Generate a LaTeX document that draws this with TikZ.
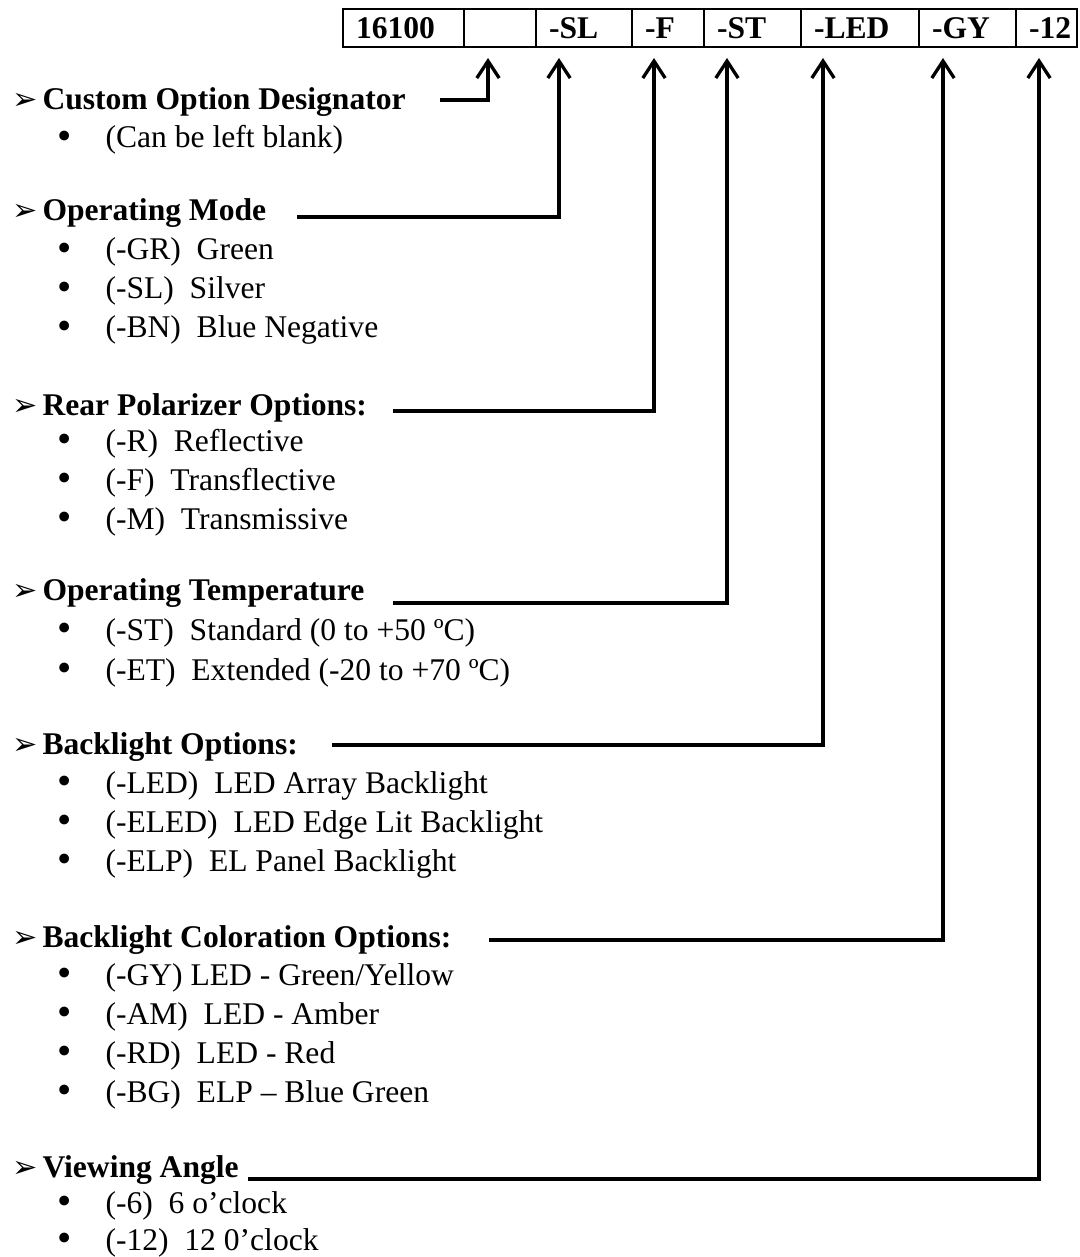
\documentclass[tikz,border=0pt]{standalone}
\usepackage{fontspec}
\setmainfont{Liberation Serif}
\newfontfamily\dingfont{DejaVu Sans}
\usetikzlibrary{positioning,arrows.meta}
\newlength\upx
\setlength\upx{0.38pt}
\newcommand\cellbox[2]{\makebox[#1\upx][l]{\hspace{13\upx}#2}}
\newcommand\mk{\makebox[30\upx][l]{\mdseries\dingfont\fontsize{11.5}{12}\selectfont ➢}}
\newcommand\bul{\makebox[48\upx][l]{\smash{\raisebox{-.5pt}{\fontsize{15.5}{12}\selectfont •}}}}
\tikzset{pn/.style={x=\upx,y=-\upx,font=\fontsize{12}{14}\selectfont},
  cell/.style={draw,line width=.8pt,inner xsep=0pt,inner ysep=0pt,outer sep=0pt,minimum height=38*\upx,font=\fontsize{12}{14}\selectfont\bfseries},
  hdr/.style={anchor=base west,inner sep=0pt,font=\fontsize{12}{14}\selectfont\bfseries},
  itm/.style={anchor=base west,inner sep=0pt},
  conn/.style={line width=1.25pt,-{Straight Barb[length=6.5pt,width=8.5pt]}}}

\begin{document}
\begin{tikzpicture}[pn]
  \useasboundingbox (0,0) rectangle (1080,1257);
  % part number boxes
  \node[cell,anchor=west] (c1) at (343,28) {\cellbox{121}{16100}};
  \node[cell,right=0pt of c1] (c2) {\cellbox{72}{}};
  \node[cell,right=0pt of c2] (c3) {\cellbox{96}{-SL}};
  \node[cell,right=0pt of c3] (c4) {\cellbox{72}{-F}};
  \node[cell,right=0pt of c4] (c5) {\cellbox{97}{-ST}};
  \node[cell,right=0pt of c5] (c6) {\cellbox{118}{-LED}};
  \node[cell,right=0pt of c6] (c7) {\cellbox{97}{-GY}};
  \node[cell,right=0pt of c7] (c8) {\cellbox{61}{-12}};
  % option groups
  \node[hdr] (h1) at (12,110) {\mk Custom Option Designator};
  \node[itm] (i11) at (57,148) {\bul(Can be left blank)};
  \node[hdr] (h2) at (12,221) {\mk Operating Mode};
  \node[itm] (i21) at (57,260) {\bul(-GR)\ \ Green};
  \node[itm] (i22) at (57,299) {\bul(-SL)\ \ Silver};
  \node[itm] (i23) at (57,338) {\bul(-BN)\ \ Blue Negative};
  \node[hdr] (h3) at (12,415) {\mk Rear Polarizer Options:};
  \node[itm] (i31) at (57,451) {\bul(-R)\ \ Reflective};
  \node[itm] (i32) at (57,490) {\bul(-F)\ \ Transflective};
  \node[itm] (i33) at (57,529) {\bul(-M)\ \ Transmissive};
  \node[hdr] (h4) at (12,600) {\mk Operating Temperature};
  \node[itm] (i41) at (57,640) {\bul(-ST)\ \ Standard (0 to +50 ºC)};
  \node[itm] (i42) at (57,680) {\bul(-ET)\ \ Extended (-20 to +70 ºC)};
  \node[hdr] (h5) at (12,754) {\mk Backlight Options:};
  \node[itm] (i51) at (57,793) {\bul(-LED)\ \ LED Array Backlight};
  \node[itm] (i52) at (57,832) {\bul(-ELED)\ \ LED Edge Lit Backlight};
  \node[itm] (i53) at (57,871) {\bul(-ELP)\ \ EL Panel Backlight};
  \node[hdr] (h6) at (12,947) {\mk Backlight Coloration Options:};
  \node[itm] (i61) at (57,985) {\bul(-GY)\ LED - Green/Yellow};
  \node[itm] (i62) at (57,1024) {\bul(-AM)\ \ LED - Amber};
  \node[itm] (i63) at (57,1063) {\bul(-RD)\ \ LED - Red};
  \node[itm] (i64) at (57,1102) {\bul(-BG)\ \ ELP – Blue Green};
  \node[hdr] (h7) at (12,1177) {\mk Viewing Angle};
  \node[itm] (i71) at (57,1213) {\bul(-6)\ \ 6 o’clock};
  \node[itm] (i72) at (57,1250) {\bul(-12)\ \ 12 0’clock};
  % leader lines up to the boxes
  \foreach \n/\sx/\sy/\tx in {1/440/100/488,2/297/217/559,3/393/411/654,4/393/603/727,5/332/745/823,6/489/940/943,7/248/1179/1039}{
    \coordinate (s\n) at (\sx,\sy);
    \coordinate (t\n) at (\tx,58);
  }
  \foreach \n in {1,...,7} \draw[conn] (s\n) -| (t\n);
\end{tikzpicture}
\end{document}
